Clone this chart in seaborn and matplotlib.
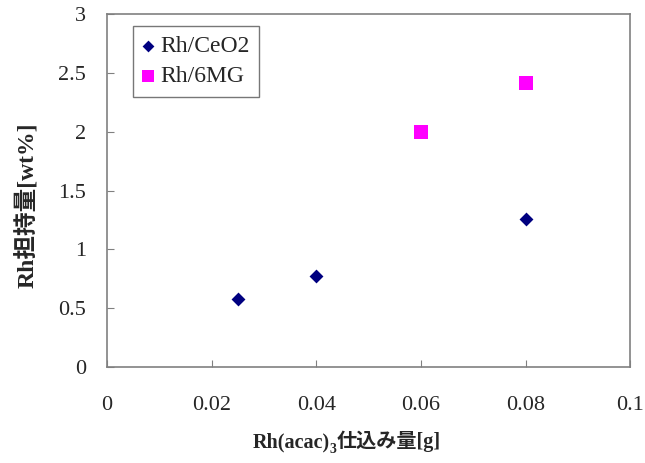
import numpy as np
import pandas as pd
import matplotlib
matplotlib.use('Agg')
import matplotlib.pyplot as plt
import seaborn as sns

# data
ceo2_x = [0.025, 0.04, 0.08]
ceo2_y = [0.58, 0.77, 1.26]
mg_x = [0.06, 0.08]
mg_y = [2.0, 2.41]
series = ['Rh/CeO2', 'Rh/6MG']

xticks = [0, 0.02, 0.04, 0.06, 0.08, 0.1]
xtick_labels = ['0', '0.02', '0.04', '0.06', '0.08', '0.1']
yticks = [0, 0.5, 1, 1.5, 2, 2.5, 3]
ytick_labels = ['0', '0.5', '1', '1.5', '2', '2.5', '3']

sns.set_style('white')
plt.rcParams['font.family'] = ['Liberation Serif', 'Noto Sans CJK JP', 'DejaVu Sans']

fig = plt.figure(figsize=(6.45, 4.63), dpi=100)
ax = fig.add_axes([0.166, 0.207, 0.811, 0.763])

sns.scatterplot(x=ceo2_x, y=ceo2_y, marker='D', color='#000080', s=50,
                linewidth=0, label=series[0], ax=ax)
sns.scatterplot(x=mg_x, y=mg_y, marker='s', color='#ff00ff', s=95,
                linewidth=0, label=series[1], ax=ax)

ax.set_xlim(0, 0.1)
ax.set_ylim(0, 3)
ax.set_xticks(xticks)
ax.set_xticklabels(xtick_labels)
ax.set_yticks(yticks)
ax.set_yticklabels(ytick_labels)
ax.tick_params(direction='in', length=5, color='#808080', labelsize=16,
               bottom=True, left=True)
ax.tick_params(axis='x', pad=21)
ax.tick_params(axis='y', pad=15)
for s in ax.spines.values():
    s.set_color('#808080')
    s.set_linewidth(1.2)
ax.set_xlabel('')
ax.set_ylabel('')

# y label
fig.text(27 / 645, 0.557, 'Rh担持量[wt%]', rotation=90, ha='center', va='center',
         fontsize=17, fontweight='bold')

# x label in pieces so the subscript 3 keeps the CJK fallback
y0 = 0.034
t1 = fig.text(0.391, y0, 'Rh(acac)', ha='left', va='baseline',
              fontsize=14.5, fontweight='bold')
t2 = ax.annotate('3', xy=(1, y0), xycoords=(t1, 'figure fraction'),
                 xytext=(0.3, -4), textcoords='offset points',
                 ha='left', va='baseline', fontsize=10, fontweight='bold',
                 annotation_clip=False)
t3 = ax.annotate('仕込み量[g]', xy=(1, y0), xycoords=(t2, 'figure fraction'),
                 xytext=(0.3, 0), textcoords='offset points',
                 ha='left', va='baseline', fontsize=14.5, fontweight='bold',
                 annotation_clip=False)

leg = ax.legend(loc='upper left', bbox_to_anchor=(0.0497, 0.966), fontsize=17,
                frameon=True, fancybox=False, edgecolor='#555555',
                handletextpad=0.25, borderpad=0.4, labelspacing=0.38,
                handlelength=0.5, markerscale=0.85, borderaxespad=0)
leg.get_frame().set_linewidth(1.0)

fig.savefig('out.png', dpi=100)
